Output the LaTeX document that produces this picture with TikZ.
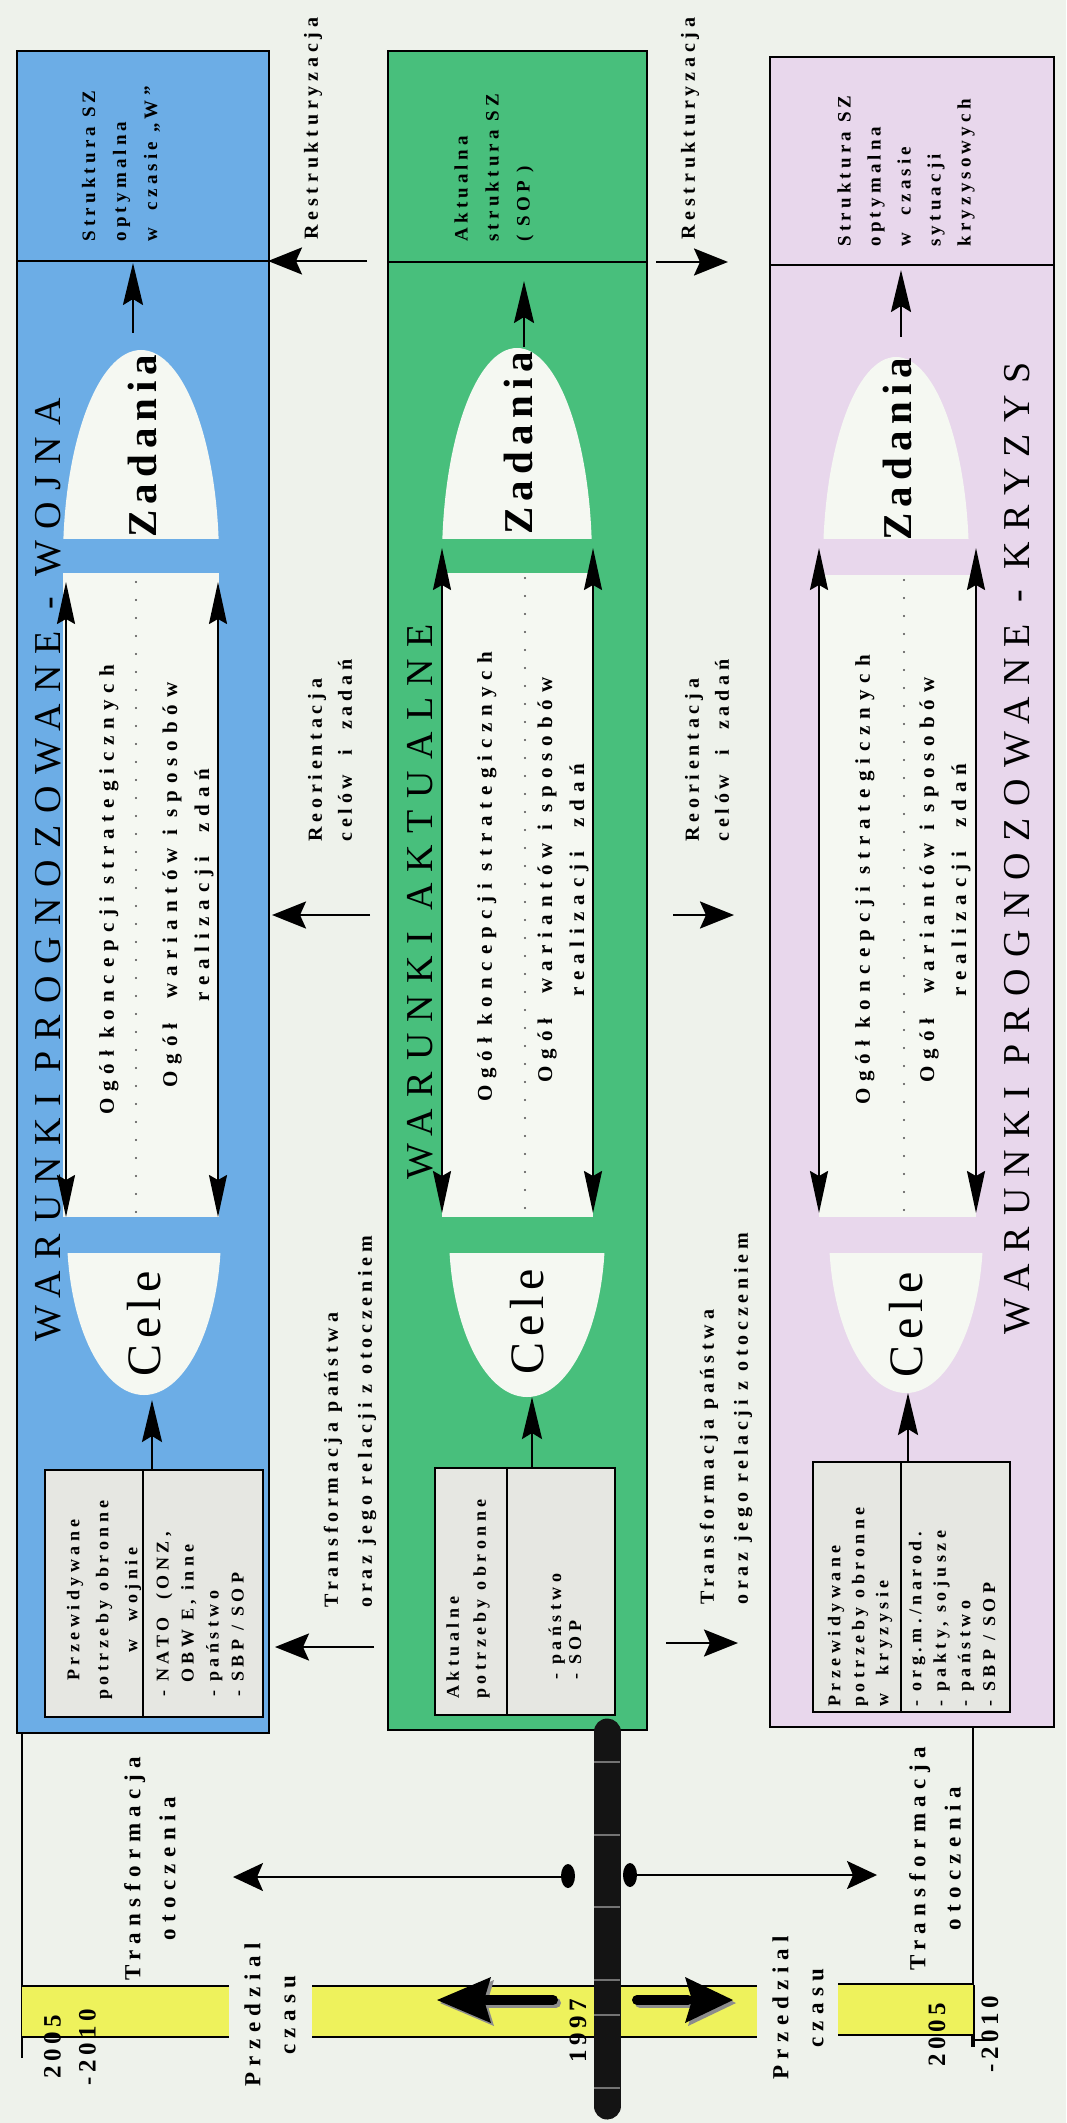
\documentclass[tikz,border=0pt]{standalone}
\usepackage{fontspec}
\setmainfont{Liberation Serif}
\usetikzlibrary{arrows.meta}
\newcommand\tracking[1]{\addfontfeature{LetterSpace=#1}}
\definecolor{bgc}{HTML}{EEF2EB}
\definecolor{warblue}{HTML}{6CADE6}
\definecolor{curgreen}{HTML}{48BF7C}
\definecolor{crislilac}{HTML}{E8D7EC}
\definecolor{shapewhite}{HTML}{F5F8F2}
\definecolor{boxgrey}{HTML}{E6E7E2}
\definecolor{bandyellow}{HTML}{EEF25C}
\begin{document}
\begin{tikzpicture}[x=0.5pt, y=-0.5pt,
  panel/.style={draw=black, line width=1.2pt},
  rule/.style={draw=black, line width=1pt},
  side/.style={line width=1.2pt, -{Stealth[length=17pt,width=13.5pt,inset=3pt]}},
  lift/.style={line width=1.2pt, -{Stealth[length=21pt,width=10pt,inset=3pt]}},
  dbl/.style={line width=1pt, {Stealth[length=21pt,width=9pt,inset=2.5pt]}-{Stealth[length=21pt,width=9pt,inset=2.5pt]}},
  tline/.style={line width=1pt, -{Stealth[length=15pt,width=14pt,inset=3pt]}},
  dotline/.style={draw=black!70, line width=1.2pt, dash pattern=on 0pt off 9pt, line cap=round},
  infobox/.style={draw=black, line width=1pt, fill=boxgrey},
  vtxt/.style={rotate=90, inner sep=0pt, text=black},
  title/.style={vtxt, font=\fontsize{19}{22}\selectfont\tracking{30}},
  zad/.style={vtxt, font=\fontsize{20.5}{24}\selectfont\bfseries\tracking{15}},
  cele/.style={vtxt, font=\fontsize{24}{28}\selectfont\tracking{12}},
  lbl/.style={vtxt, font=\fontsize{9.5}{#1}\selectfont\bfseries\tracking{22}},
  lbl/.default=15.5,
  ogol/.style={vtxt, font=\fontsize{10.5}{16}\selectfont\bfseries\tracking{33}},
  mid/.style={vtxt, font=\fontsize{10}{#1}\selectfont\bfseries\tracking{24}},
  mid/.default=15,
  boxt/.style={vtxt, font=\fontsize{9}{#1}\selectfont\bfseries\tracking{25}},
  boxt/.default=12.5,
  tim/.style={vtxt, font=\fontsize{11.5}{17.5}\selectfont\bfseries\tracking{28}},
  yr/.style={vtxt, font=\fontsize{12.5}{17.5}\selectfont\bfseries\tracking{18}}]

\useasboundingbox (0,0) rectangle (1066,2123);
\fill[bgc] (0,0) rectangle (1066,2123);

% ---------- the three condition panels ----------
\filldraw[panel, fill=warblue] (17,51) rectangle (269,1733);
\filldraw[panel, fill=curgreen] (388,51) rectangle (647,1730);
\filldraw[panel, fill=crislilac] (770,57) rectangle (1054,1727);

% upper halves of the "Zadania" capsules
\begin{scope}
  \clip (0,300) rectangle (1066,538);
  \fill[shapewhite] (141,560) ellipse [x radius=78, y radius=210];
  \fill[shapewhite] (517,560) ellipse [x radius=75, y radius=212];
  \fill[shapewhite] (896,563) ellipse [x radius=73, y radius=206];
\end{scope}
% middle parts
\fill[shapewhite] (63,573) rectangle (219,1217);
\fill[shapewhite] (442,573) rectangle (593,1217);
\fill[shapewhite] (819,575) rectangle (976,1217);
% lower halves ("Cele")
\begin{scope}
  \clip (0,1253) rectangle (1066,1420);
  \fill[shapewhite] (144,1233) ellipse [x radius=77, y radius=162];
  \fill[shapewhite] (527,1233) ellipse [x radius=78, y radius=164];
  \fill[shapewhite] (906,1233) ellipse [x radius=77, y radius=160];
\end{scope}

% separators of the structure fields
\draw[rule] (17,261) -- (269,261);
\draw[rule] (388,262) -- (647,262);
\draw[rule] (770,265) -- (1054,265);

% structure texts
\node[lbl, anchor=west, align=left] (bStr) at (121,242) {Struktura SZ\\optymalna\\w~~czasie „W”};
\node[lbl, anchor=west, align=left] (gStr) at (494,242) {Aktualna\\struktura SZ\\( SOP )};
\node[lbl=15, anchor=west, align=left] (pStr) at (906,247) {Struktura SZ\\optymalna\\w~~czasie\\sytuacji\\kryzysowych};

% titles
\node[title, anchor=west] (bTit) at (48,1342) {WARUNKI PROGNOZOWANE - WOJNA};
\node[title, anchor=west] (gTit) at (420,1180) {WARUNKI AKTUALNE};
\node[title, anchor=west] (pTit) at (1017,1335) {WARUNKI PROGNOZOWANE - KRYZYS};

% tasks and goals
\node[zad, anchor=west] (bZad) at (142,538) {Zadania};
\node[zad, anchor=west] (gZad) at (518,535) {Zadania};
\node[zad, anchor=west] (pZad) at (897,541) {Zadania};
\node[cele, anchor=west] (bCel) at (144,1377) {Cele};
\node[cele, anchor=west] (gCel) at (527,1375) {Cele};
\node[cele, anchor=west] (pCel) at (906,1378) {Cele};

% arrows from tasks up to the structures
\coordinate (bZa) at (133,333); \coordinate (bSa) at (133,263);
\coordinate (gZa) at (524,347); \coordinate (gSa) at (524,281);
\coordinate (pZa) at (901,337); \coordinate (pSa) at (901,270);
\draw[lift] (bZa) -- (bSa);
\draw[lift] (gZa) -- (gSa);
\draw[lift] (pZa) -- (pSa);

% long double arrows and dotted dividers
\coordinate (bL1) at (66,582);  \coordinate (bL2) at (66,1217);
\coordinate (bR1) at (218,582); \coordinate (bR2) at (218,1217);
\coordinate (gL1) at (442,548); \coordinate (gL2) at (442,1213);
\coordinate (gR1) at (593,548); \coordinate (gR2) at (593,1213);
\coordinate (pL1) at (819,548); \coordinate (pL2) at (819,1213);
\coordinate (pR1) at (976,548); \coordinate (pR2) at (976,1213);
\draw[dbl] (bL1) -- (bL2); \draw[dbl] (bR1) -- (bR2);
\draw[dbl] (gL1) -- (gL2); \draw[dbl] (gR1) -- (gR2);
\draw[dbl] (pL1) -- (pL2); \draw[dbl] (pR1) -- (pR2);
\coordinate (bD1) at (136,582); \coordinate (bD2) at (136,1213);
\coordinate (gD1) at (525,578); \coordinate (gD2) at (525,1213);
\coordinate (pD1) at (904,580); \coordinate (pD2) at (904,1213);
\draw[dotline] (bD1) -- (bD2);
\draw[dotline] (gD1) -- (gD2);
\draw[dotline] (pD1) -- (pD2);

% strategy texts
\node[ogol] (bKon) at (109,890) {Ogół koncepcji strategicznych};
\node[ogol] (gKon) at (487,877) {Ogół koncepcji strategicznych};
\node[ogol] (pKon) at (865,880) {Ogół koncepcji strategicznych};
\node[ogol, align=center] (bWar) at (188,885) {Ogół~~wariantów i sposobów\\realizacji~~zdań};
\node[ogol, align=center] (gWar) at (563,880) {Ogół~~wariantów i sposobów\\realizacji~~zdań};
\node[ogol, align=center] (pWar) at (945,880) {Ogół~~wariantów i sposobów\\realizacji~~zdań};

% needs boxes
\draw[infobox] (45,1470) rectangle (263,1717);
\draw[rule] (143,1470) -- (143,1717);
\draw[infobox] (435,1468) rectangle (615,1715);
\draw[rule] (507,1468) -- (507,1715);
\draw[infobox] (813,1462) rectangle (1010,1712);
\draw[rule] (901,1462) -- (901,1712);

\node[boxt=14.5, align=center] (bNeed) at (104,1600) {Przewidywane\\potrzeby obronne\\w~~wojnie};
\node[boxt, anchor=west, align=left] (bWho) at (200,1697) {- NATO~~(ONZ,\\\hspace*{7pt}OBW E, inne\\- państwo\\- SBP / SOP};
\node[boxt=13.5, anchor=west, align=left] (gNeed) at (468,1699) {Aktualne\\potrzeby obronne};
\node[boxt=10, anchor=west, align=left] (gWho) at (565,1680) {- państwo\\- SOP};
\node[boxt=12, anchor=west, align=left] (pNeed) at (860,1707) {Przewidywane\\potrzeby obronne\\w~~kryzysie};
\node[boxt=12.3, anchor=west, align=left] (pWho) at (952,1707) {- org.m./narod.\\- pakty, sojusze\\- państwo\\- SBP / SOP};

% arrows from the boxes to the goals
\coordinate (bB) at (152,1470); \coordinate (bC) at (152,1400);
\coordinate (gB) at (532,1468); \coordinate (gC) at (532,1397);
\coordinate (pB) at (908,1462); \coordinate (pC) at (908,1393);
\draw[lift] (bB) -- (bC);
\draw[lift] (gB) -- (gC);
\draw[lift] (pB) -- (pC);

% ---------- labels between the panels ----------
\node[mid, anchor=west] (re1) at (313,240) {Restrukturyzacja};
\node[mid, anchor=west] (re2) at (690,240) {Restrukturyzacja};
\node[mid, anchor=west, align=left] (ro1) at (330,842) {Reorientacja\\celów~~i~~zadań};
\node[mid, anchor=west, align=left] (ro2) at (707,842) {Reorientacja\\celów~~i~~zadań};
\node[mid=17, anchor=west, align=left] (tr1) at (350,1608) {Transformacja państwa\\oraz jego relacji z otoczeniem};
\node[mid=17, anchor=west, align=left] (tr2) at (726,1605) {Transformacja państwa\\oraz jego relacji z otoczeniem};

\coordinate (re1a) at (367,261); \coordinate (re1b) at (268,261);
\coordinate (re2a) at (656,262); \coordinate (re2b) at (728,262);
\coordinate (ro1a) at (370,915); \coordinate (ro1b) at (272,915);
\coordinate (ro2a) at (673,915); \coordinate (ro2b) at (734,915);
\coordinate (tr1a) at (374,1647); \coordinate (tr1b) at (275,1647);
\coordinate (tr2a) at (666,1643); \coordinate (tr2b) at (738,1643);
\draw[side] (re1a) -- (re1b);
\draw[side] (re2a) -- (re2b);
\draw[side] (ro1a) -- (ro1b);
\draw[side] (ro2a) -- (ro2b);
\draw[side] (tr1a) -- (tr1b);
\draw[side] (tr2a) -- (tr2b);

% ---------- time line ----------
\draw[rule] (22,1733) -- (22,2058);
\draw[rule] (973,1727) -- (973,2047);
\draw[line width=2pt] (973,1985) -- (973,2047);
\draw[rule] (973,2040) -- (992,2040);

\fill[bandyellow] (22,1986) rectangle (229,2037);
\fill[bandyellow] (312,1986) rectangle (757,2037);
\fill[bandyellow] (838,1984) rectangle (973,2035);
\draw[rule] (22,1986) -- (229,1986) (22,2037) -- (229,2037);
\draw[rule] (312,1986) -- (757,1986) (312,2037) -- (757,2037);
\draw[rule] (838,1984) -- (973,1984) (838,2035) -- (973,2035);

% thick arrows inside the band
\begin{scope}[shift={(3,3)}, black!45]
  \draw[line width=5pt, line cap=round] (553,2000) -- (486,2000);
  \fill (491,1977) -- (437,2000) -- (491,2023) -- (484,2000) -- cycle;
  \draw[line width=5pt, line cap=round] (637,2000) -- (688,2000);
  \fill (685,1977) -- (733,2000) -- (685,2023) -- (692,2000) -- cycle;
\end{scope}
\draw[line width=5pt, line cap=round] (553,2000) -- (486,2000);
\fill (491,1977) -- (437,2000) -- (491,2023) -- (484,2000) -- cycle;
\draw[line width=5pt, line cap=round] (637,2000) -- (688,2000);
\fill (685,1977) -- (733,2000) -- (685,2023) -- (692,2000) -- cycle;

% the present-day bar
\coordinate (barT) at (607,1732); \coordinate (barB) at (607,2106);
\draw[line width=13.5pt, line cap=round, black!92] (barT) -- (barB);
\foreach \t in {1762,1835,1907,1980,2015,2088}
  \draw[black!55, line width=0.6pt] (594,\t) -- (620,\t);

\fill (568,1876) ellipse [x radius=7, y radius=12];
\fill (630,1875) ellipse [x radius=7, y radius=12];
\coordinate (dL) at (561,1877); \coordinate (eL) at (233,1877);
\coordinate (dR) at (637,1875); \coordinate (eR) at (877,1875);
\draw[tline] (dL) -- (eL);
\draw[tline] (dR) -- (eR);

\node[yr] (y97) at (578,2031) {1997};
\node[tim, align=center] (tl1) at (150,1869) {Transformacja\\otoczenia};
\node[tim, align=center] (tl2) at (935,1859) {Transformacja\\otoczenia};
\node[tim, align=center] (pc1) at (270,2015) {Przedzial\\czasu};
\node[tim, align=center] (pc2) at (798,2008) {Przedzial\\czasu};
\node[yr, align=center] (yl) at (70,2047) {2005\\-2010};
\node[yr] (yr1) at (937,2035) {2005};
\node[yr] (yr2) at (990,2034) {-2010};
\end{tikzpicture}
\end{document}
